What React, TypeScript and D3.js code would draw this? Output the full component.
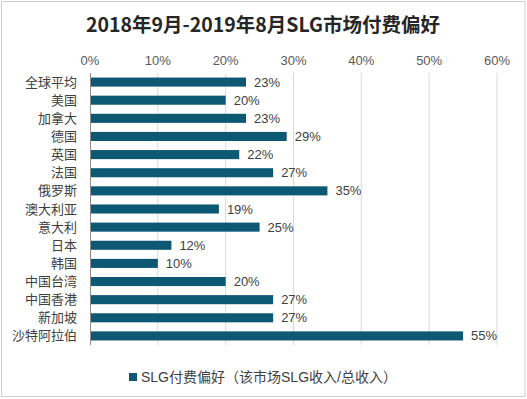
import { useEffect, useRef } from 'react';
import * as d3 from 'd3';

const title = '2018年9月-2019年8月SLG市场付费偏好';
const legendLabel = 'SLG付费偏好（该市场SLG收入/总收入）';
const countries = [
  '全球平均', '美国', '加拿大', '德国', '英国', '法国', '俄罗斯', '澳大利亚',
  '意大利', '日本', '韩国', '中国台湾', '中国香港', '新加坡', '沙特阿拉伯',
];
const shares = [23, 20, 23, 29, 22, 27, 35, 19, 25, 12, 10, 20, 27, 27, 55];
const ticks = [0, 10, 20, 30, 40, 50, 60];

const FONT = '"Liberation Sans", "Noto Sans CJK SC", sans-serif';

function App() {
  const ref = useRef<SVGSVGElement>(null);

  useEffect(() => {
    const w = 527;
    const h = 399;
    const svg = d3.select(ref.current).attr('width', w).attr('height', h);
    svg.selectAll('*').remove();

    svg
      .append('rect')
      .attr('x', 1.5)
      .attr('y', 1.5)
      .attr('width', 523.5)
      .attr('height', 395)
      .attr('fill', '#fff')
      .attr('stroke', '#d0d0d0');

    svg
      .append('text')
      .attr('x', 263)
      .attr('y', 32)
      .attr('text-anchor', 'middle')
      .attr('font-family', '"Noto Sans CJK SC", sans-serif')
      .attr('font-weight', 'bold')
      .attr('font-size', 19.5)
      .attr('fill', '#262626')
      .text(title);

    const x = d3.scaleLinear().domain([0, 60]).range([90, 497]);
    const y = d3.scaleBand().domain(countries).range([73, 345]).paddingInner(0.5).paddingOuter(0.25);

    const grid = svg.append('g');
    grid
      .selectAll('line')
      .data(ticks.slice(1))
      .join('line')
      .attr('x1', d => x(d))
      .attr('x2', d => x(d))
      .attr('y1', 73)
      .attr('y2', 345)
      .attr('stroke', '#d9d9d9');

    svg
      .append('g')
      .selectAll('text')
      .data(ticks)
      .join('text')
      .attr('x', d => x(d))
      .attr('y', 65)
      .attr('text-anchor', 'middle')
      .attr('font-family', FONT)
      .attr('font-size', 13)
      .attr('fill', '#595959')
      .text(d => `${d}%`);

    svg
      .append('g')
      .selectAll('rect')
      .data(shares)
      .join('rect')
      .attr('x', x(0))
      .attr('y', (d, i) => y(countries[i])!)
      .attr('width', d => x(d) - x(0))
      .attr('height', y.bandwidth())
      .attr('fill', '#0d5873');

    svg
      .append('line')
      .attr('x1', x(0) + 0.5)
      .attr('x2', x(0) + 0.5)
      .attr('y1', 73)
      .attr('y2', 345)
      .attr('stroke', '#8c8c8c');

    svg
      .append('g')
      .selectAll('text')
      .data(countries)
      .join('text')
      .attr('x', 77)
      .attr('y', d => y(d)! + y.bandwidth() / 2)
      .attr('dy', '0.35em')
      .attr('text-anchor', 'end')
      .attr('font-family', FONT)
      .attr('font-size', 13)
      .attr('fill', '#404040')
      .text(d => d);

    svg
      .append('g')
      .selectAll('text')
      .data(shares)
      .join('text')
      .attr('x', d => x(d) + 8)
      .attr('y', (d, i) => y(countries[i])! + y.bandwidth() / 2)
      .attr('dy', '0.35em')
      .attr('font-family', FONT)
      .attr('font-size', 13)
      .attr('fill', '#404040')
      .text(d => `${d}%`);

    svg
      .append('rect')
      .attr('x', 129)
      .attr('y', 373)
      .attr('width', 8)
      .attr('height', 8)
      .attr('fill', '#0d5873');

    svg
      .append('text')
      .attr('x', 141)
      .attr('y', 377)
      .attr('dy', '0.35em')
      .attr('font-family', FONT)
      .attr('font-size', 14)
      .attr('fill', '#404040')
      .text(legendLabel);

    return () => {
      svg.selectAll('*').remove();
    };
  }, []);

  return (
    <svg
      ref={ref}
      style={{ position: 'absolute', left: 0, top: 0 }}
      role="img"
      aria-label={title}
    />
  );
}

export default App;
